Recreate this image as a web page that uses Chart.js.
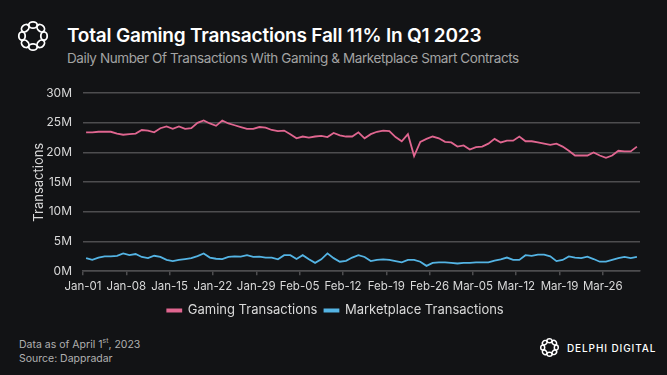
<!DOCTYPE html>
<html>
<head>
<meta charset="utf-8">
<script src="https://cdn.jsdelivr.net/npm/chart.js@4.4.1/dist/chart.umd.min.js"></script>
<style>
  html, body { margin: 0; padding: 0; }
  body { width: 667px; height: 375px; background: #121315; position: relative; overflow: hidden; font-family: Inter, "Noto Sans", sans-serif; }
  .logo { position: absolute; left: 16px; top: 19px; }
  .title { position: absolute; left: 67px; top: 24px; color: #fff; font-size: 19px; font-weight: 600; letter-spacing: -0.2px; }
  .subtitle { position: absolute; left: 67px; top: 50px; color: #a3a3a3; font-size: 13.5px; letter-spacing: -0.4px; }
  .wrap { position: absolute; left: 0; top: 75px; width: 667px; height: 252px; }
  .foot { position: absolute; left: 19px; top: 334px; color: #b0b0b0; font-size: 10.5px; line-height: 14px; }
  .foot sup { font-size: 7px; }
  .brand { position: absolute; left: 539px; top: 337px; }
  .brandtxt { position: absolute; left: 567px; top: 342px; color: #fff; font-size: 10px; letter-spacing: 0.9px; font-weight: 500; white-space: nowrap; }
</style>
</head>
<body>
<svg class="logo" width="34" height="34" viewBox="-17 -17 34 34">
  <g fill="none" stroke="#fff" stroke-width="1.8">
    <ellipse cx="0" cy="-11" rx="4.2" ry="3.2"/>
    <ellipse cx="0" cy="-11" rx="4.2" ry="3.2" transform="rotate(45)"/>
    <ellipse cx="0" cy="-11" rx="4.2" ry="3.2" transform="rotate(90)"/>
    <ellipse cx="0" cy="-11" rx="4.2" ry="3.2" transform="rotate(135)"/>
    <ellipse cx="0" cy="-11" rx="4.2" ry="3.2" transform="rotate(180)"/>
    <ellipse cx="0" cy="-11" rx="4.2" ry="3.2" transform="rotate(225)"/>
    <ellipse cx="0" cy="-11" rx="4.2" ry="3.2" transform="rotate(270)"/>
    <ellipse cx="0" cy="-11" rx="4.2" ry="3.2" transform="rotate(315)"/>
  </g>
</svg>
<div class="title">Total Gaming Transactions Fall 11% In Q1 2023</div>
<div class="subtitle">Daily Number Of Transactions With Gaming &amp; Marketplace Smart Contracts</div>
<div class="wrap"><canvas id="chart"></canvas></div>
<div class="foot">Data as of April 1<sup>st</sup>, 2023<br>Source: Dappradar</div>
<svg class="brand" width="21" height="21" viewBox="-17 -17 34 34">
  <g fill="none" stroke="#fff" stroke-width="2.4">
    <ellipse cx="0" cy="-11" rx="4.2" ry="3.2"/>
    <ellipse cx="0" cy="-11" rx="4.2" ry="3.2" transform="rotate(45)"/>
    <ellipse cx="0" cy="-11" rx="4.2" ry="3.2" transform="rotate(90)"/>
    <ellipse cx="0" cy="-11" rx="4.2" ry="3.2" transform="rotate(135)"/>
    <ellipse cx="0" cy="-11" rx="4.2" ry="3.2" transform="rotate(180)"/>
    <ellipse cx="0" cy="-11" rx="4.2" ry="3.2" transform="rotate(225)"/>
    <ellipse cx="0" cy="-11" rx="4.2" ry="3.2" transform="rotate(270)"/>
    <ellipse cx="0" cy="-11" rx="4.2" ry="3.2" transform="rotate(315)"/>
  </g>
</svg>
<div class="brandtxt">DELPHI DIGITAL</div>
<script>
// weekly tick labels on the x axis (one every 7 days from Jan-01)
const weekTicks = ['Jan-01', 'Jan-08', 'Jan-15', 'Jan-22', 'Jan-29', 'Feb-05', 'Feb-12',
    'Feb-19', 'Feb-26', 'Mar-05', 'Mar-12', 'Mar-19', 'Mar-26'];

// daily values in millions, Jan 1 -> Mar 31 2023
const gaming = [
    23.4, 23.4, 23.5, 23.5, 23.5, 23.2, 23.0, 23.1, 23.2, 23.8,
    23.7, 23.4, 24.1, 24.4, 24.0, 24.4, 24.0, 24.1, 25.0, 25.4,
    24.9, 24.5, 25.4, 24.9, 24.6, 24.3, 24.0, 24.0, 24.3, 24.2,
    23.8, 23.6, 23.7, 23.1, 22.4, 22.7, 22.5, 22.7, 22.8, 22.6,
    23.3, 22.9, 22.7, 22.7, 23.4, 22.4, 23.1, 23.5, 23.7, 23.6,
    22.6, 21.9, 23.1, 19.4, 21.8, 22.3, 22.7, 22.4, 21.8, 21.7,
    21.0, 21.2, 20.5, 20.9, 21.0, 21.5, 22.3, 21.7, 22.0, 22.0,
    22.7, 21.9, 21.9, 21.7, 21.5, 21.3, 21.5, 21.0, 20.3, 19.5,
    19.5, 19.5, 20.0, 19.5, 19.1, 19.5, 20.3, 20.2, 20.2, 21.0
];
const marketplace = [
    2.2, 1.9, 2.3, 2.5, 2.5, 2.6, 3.0, 2.7, 2.9, 2.4,
    2.2, 2.6, 2.4, 1.9, 1.7, 1.9, 2.05, 2.2, 2.55, 3.0,
    2.3, 2.1, 2.05, 2.4, 2.5, 2.45, 2.7, 2.4, 2.45, 2.3,
    2.3, 2.0, 2.7, 2.7, 2.05, 2.7, 2.0, 1.4, 2.0, 3.0,
    2.2, 1.6, 1.75, 2.3, 2.7, 2.4, 1.7, 1.9, 2.0, 1.9,
    1.7, 1.5, 1.9, 1.9, 1.6, 0.9, 1.4, 1.5, 1.5, 1.4,
    1.3, 1.4, 1.4, 1.5, 1.5, 1.5, 1.8, 2.0, 2.3, 1.9,
    1.9, 2.7, 2.6, 2.8, 2.8, 2.5, 1.7, 1.9, 2.5, 2.3,
    2.2, 2.45, 2.05, 1.6, 1.6, 1.9, 2.2, 2.4, 2.2, 2.4
];

// each daily point sits mid-day on a linear day axis
const toPoints = arr => arr.map((y, i) => ({ x: i + 0.5, y: y }));

const textCol = '#d9d9d9';
const gridCol = '#4d4d4f';

var options = {
    type: 'line',
    data: {
        datasets: [{
            label: 'Gaming Transactions',
            data: toPoints(gaming),
            borderColor: '#e06690',
            backgroundColor: '#e06690',
            borderWidth: 1.8,
            pointRadius: 0,
            tension: 0
        },
        {
            label: 'Marketplace Transactions',
            data: toPoints(marketplace),
            borderColor: '#54b4e4',
            backgroundColor: '#54b4e4',
            borderWidth: 1.8,
            pointRadius: 0,
            tension: 0
        }]
    },
    options: {
        responsive: true,
        maintainAspectRatio: false,
        animation: false,
        layout: { padding: { left: 31, right: 27, top: 3, bottom: 0 } },
        plugins: {
            legend: {
                position: 'bottom',
                labels: {
                    color: textCol,
                    boxWidth: 14,
                    boxHeight: 2,
                    padding: 7,
                    font: { family: 'Inter', size: 13 }
                }
            },
            tooltip: { enabled: false }
        },
        scales: {
            x: {
                type: 'linear',
                min: 0,
                max: 90,
                afterBuildTicks: scale => {
                    scale.ticks = weekTicks.map((_, i) => ({ value: i * 7 }));
                },
                ticks: {
                    color: textCol,
                    font: { family: 'Inter', size: 11.5 },
                    maxRotation: 0,
                    padding: 4,
                    callback: v => weekTicks[v / 7]
                },
                grid: { drawOnChartArea: false, color: gridCol, tickLength: 4, lineWidth: 1.5 },
                border: { color: gridCol, width: 1.5 }
            },
            y: {
                min: 0,
                max: 30,
                afterFit: scale => { scale.width = 52; },
                ticks: {
                    stepSize: 5,
                    color: textCol,
                    font: { family: 'Inter', size: 12 },
                    padding: 11,
                    callback: v => v + 'M'
                },
                grid: { color: gridCol, lineWidth: 1.5, drawTicks: false },
                border: { display: false },
                title: {
                    display: true,
                    text: 'Transactions',
                    color: textCol,
                    font: { family: 'Inter', size: 13 },
                    padding: { top: 0, bottom: 3 }
                }
            }
        }
    }
};

var ctx = document.getElementById('chart').getContext('2d');
new Chart(ctx, options);
</script>
</body>
</html>
